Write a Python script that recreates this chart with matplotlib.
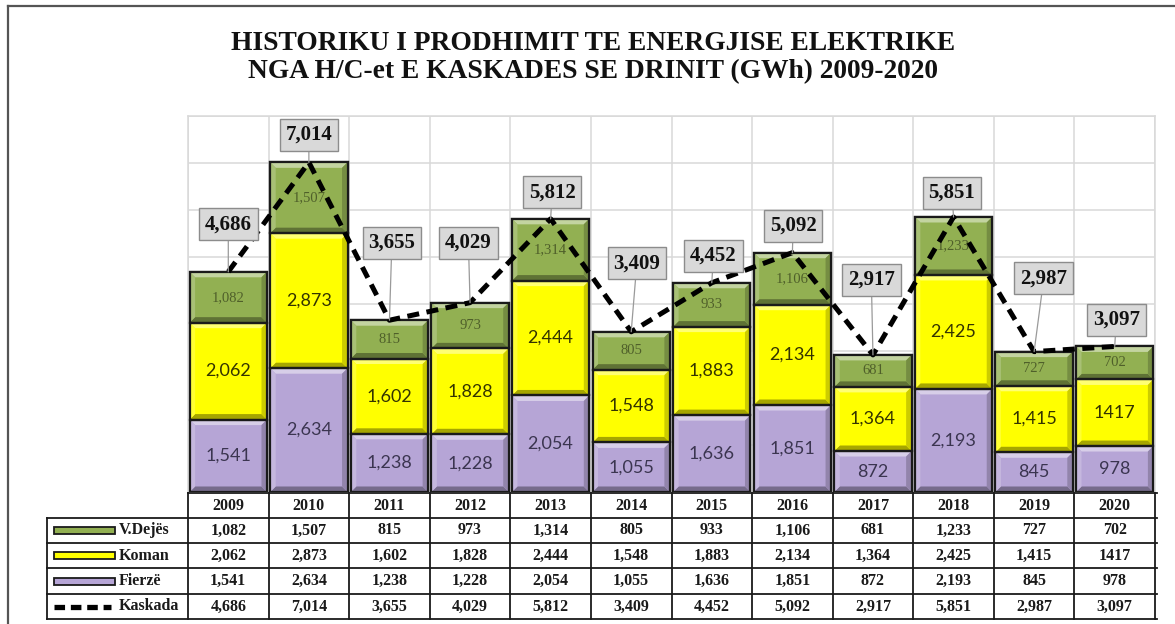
import matplotlib
matplotlib.use('Agg')
import matplotlib.pyplot as plt
import matplotlib.transforms as mtransforms
from matplotlib.patches import Rectangle, Polygon
from matplotlib.lines import Line2D
from matplotlib.colors import to_rgb
import numpy as np

# ---------------- data ----------------
years = ['2009', '2010', '2011', '2012', '2013', '2014', '2015', '2016',
         '2017', '2018', '2019', '2020']
fierze = [1541, 2634, 1238, 1228, 2054, 1055, 1636, 1851, 872, 2193, 845, 978]
koman = [2062, 2873, 1602, 1828, 2444, 1548, 1883, 2134, 1364, 2425, 1415, 1417]
vdejes = [1082, 1507, 815, 973, 1314, 805, 933, 1106, 681, 1233, 727, 702]
kaskada = [4686, 7014, 3655, 4029, 5812, 3409, 4452, 5092, 2917, 5851, 2987, 3097]
koman_text = ['2,062', '2,873', '1,602', '1,828', '2,444', '1,548', '1,883',
              '2,134', '1,364', '2,425', '1,415', '1417']
series_names = ['V.Dejës', 'Koman', 'Fierzë', 'Kaskada']
title_lines = ['HISTORIKU I PRODHIMIT TE ENERGJISE ELEKTRIKE',
               'NGA H/C-et E KASKADES SE DRINIT (GWh) 2009-2020']

# ---------------- style / layout ----------------
W, H = 1175, 624
C_FIERZE = '#b6a5d6'
C_KOMAN = '#ffff00'
C_VDEJES = '#92b052'
SERIF = ['Liberation Serif', 'DejaVu Serif']
SANS = ['Lato', 'DejaVu Sans']
# callout label placement (data y, x shift)
callout_y = [5700, 7600, 5300, 5300, 6380, 4870, 5020, 5660, 4510, 6360, 4550, 3660]
callout_dx = [0.0, 0.0, 0.03, -0.02, 0.02, 0.07, 0.02, 0.01, -0.02, -0.02, 0.12, 0.02]

fig = plt.figure(figsize=(W / 100, H / 100), dpi=100)
fig.patch.set_facecolor('white')

AX_L, AX_R, AX_T, AX_B = 188, 1155, 116, 492
ax = fig.add_axes([AX_L / W, 1 - AX_B / H, (AX_R - AX_L) / W, (AX_B - AX_T) / H])
ax.set_xlim(-0.5, 11.5)
ax.set_ylim(0, 8000)

x = np.arange(len(years))
fz = np.array(fierze)
km = np.array(koman)
vd = np.array(vdejes)

ax.set_yticks(np.arange(0, 8001, 1000))
ax.set_xticks(np.arange(-0.5, 12, 1), minor=True)
ax.set_xticks([])
ax.grid(True, which='major', axis='y', color='#d9d9d9', lw=1.1, zorder=0)
ax.grid(True, which='minor', axis='x', color='#d9d9d9', lw=1.1, zorder=0)
ax.tick_params(which='both', length=0, labelleft=False, labelbottom=False)
for s in ['top', 'right', 'left']:
    ax.spines[s].set_color('#d9d9d9')
    ax.spines[s].set_linewidth(1.1)
ax.spines['bottom'].set_visible(False)
ax.set_axisbelow(True)

bw = 0.96
b1 = ax.bar(x, fz, width=bw, color=C_FIERZE, edgecolor='#1a1a1a', lw=1.6, zorder=2)
b2 = ax.bar(x, km, width=bw, bottom=fz, color=C_KOMAN, edgecolor='#1a1a1a', lw=1.6, zorder=2)
b3 = ax.bar(x, vd, width=bw, bottom=fz + km, color=C_VDEJES, edgecolor='#1a1a1a', lw=1.6, zorder=2)


def blend(c, t, a):
    c = np.array(to_rgb(c)); t = np.array(to_rgb(t))
    return tuple(c * (1 - a) + t * a)


dx = 5.5 / ((AX_R - AX_L) / 12)
dy = 5.5 / ((AX_B - AX_T) / 8000)
for cont, col in [(b1, C_FIERZE), (b2, C_KOMAN), (b3, C_VDEJES)]:
    for p in cont.patches:
        x0, y0 = p.get_x(), p.get_y()
        x1, y1 = x0 + p.get_width(), y0 + p.get_height()
        polys = [
            ([(x0, y1), (x1, y1), (x1 - dx, y1 - dy), (x0 + dx, y1 - dy)], blend(col, 'white', 0.45)),
            ([(x0, y0), (x1, y0), (x1 - dx, y0 + dy), (x0 + dx, y0 + dy)], blend(col, 'black', 0.35)),
            ([(x0, y0), (x0 + dx, y0 + dy), (x0 + dx, y1 - dy), (x0, y1)], blend(col, 'white', 0.2)),
            ([(x1, y0), (x1 - dx, y0 + dy), (x1 - dx, y1 - dy), (x1, y1)], blend(col, 'black', 0.2)),
        ]
        for pts, c in polys:
            ax.add_patch(Polygon(pts, closed=True, facecolor=c, edgecolor='none', zorder=2.5))
        ax.add_patch(Rectangle((x0, y0), x1 - x0, y1 - y0, fill=False,
                               edgecolor='#1a1a1a', lw=1.6, zorder=2.6))

# segment labels
for i in range(len(years)):
    ax.text(x[i], fz[i] / 2, f'{fierze[i]:,}', ha='center', va='center',
            fontsize=13, family=SANS, color='#3b3550', zorder=3)
    ax.text(x[i], fz[i] + km[i] / 2, koman_text[i], ha='center', va='center',
            fontsize=13, family=SANS, color='#333300', zorder=3)
    ax.text(x[i], fz[i] + km[i] + vd[i] / 2, f'{vdejes[i]:,}', ha='center', va='center',
            fontsize=10.5, family=SERIF, color='#4f5f2a', zorder=3)

# Kaskada dashed line
ax.plot(x, kaskada, color='black', lw=3.6, ls=(0, (2.4, 1.5)), zorder=4,
        solid_capstyle='butt', dash_capstyle='butt')

# callouts
for i in range(len(years)):
    ax.annotate(f'{kaskada[i]:,}', xy=(x[i], kaskada[i]),
                xytext=(x[i] + callout_dx[i], callout_y[i]),
                ha='center', va='center', fontsize=15, fontweight='bold',
                family=SERIF, color='#111111', zorder=5,
                bbox=dict(boxstyle='square,pad=0.28', fc='#d9d9d9', ec='#8c8c8c', lw=1.0),
                arrowprops=dict(arrowstyle='-', color='#9a9a9a', lw=0.9,
                                shrinkA=0, shrinkB=0))

# ---------------- table ----------------
bt = mtransforms.blended_transform_factory(ax.transData, fig.transFigure)


def fy(ypx):
    return 1 - ypx / H


def fx(xpx):
    return xpx / W


rows_px = [493, 518, 543, 568, 594, 619]
LEFT_PX = 47
lc = '#1a1a1a'
lw_t = 1.3
# horizontal lines
fig.add_artist(Line2D([fx(AX_L), fx(AX_R + 2)], [fy(rows_px[0])] * 2, color=lc, lw=lw_t))
for r in rows_px[1:]:
    fig.add_artist(Line2D([fx(LEFT_PX), fx(AX_R + 2)], [fy(r)] * 2, color=lc, lw=lw_t))
# vertical lines
fig.add_artist(Line2D([fx(LEFT_PX)] * 2, [fy(rows_px[1]), fy(rows_px[-1])], color=lc, lw=lw_t))
for xb in np.arange(-0.5, 12, 1):
    fig.add_artist(Line2D([xb, xb], [fy(rows_px[0]), fy(rows_px[-1])], color=lc, lw=lw_t,
                          transform=bt))

tbl_kw = dict(ha='center', va='center', fontsize=11.5, fontweight='bold',
              family=SERIF, color='#1a1a1a')
row_c = [(rows_px[k] + rows_px[k + 1]) / 2 for k in range(5)]
table_rows = [[f'{v:,}' for v in vdejes], koman_text,
              [f'{v:,}' for v in fierze], [f'{v:,}' for v in kaskada]]
for i in range(len(years)):
    fig.text(x[i], fy(row_c[0]), years[i], transform=bt, **tbl_kw)
    for k in range(4):
        fig.text(x[i], fy(row_c[k + 1]), table_rows[k][i], transform=bt, **tbl_kw)

# legend column
sw_cols = [C_VDEJES, C_KOMAN, C_FIERZE]
for k in range(3):
    yc = row_c[k + 1]
    fig.add_artist(Rectangle((fx(54), fy(yc + 3.5)), fx(115) - fx(54), 7 / H,
                             facecolor=sw_cols[k], edgecolor='#1a1a1a', lw=1.3))
fig.add_artist(Line2D([fx(54), fx(111)], [fy(row_c[4])] * 2, color='black', lw=3.8,
                      ls=(0, (2.0, 1.1)), dash_capstyle='butt'))
for k in range(4):
    fig.text(fx(119), fy(row_c[k + 1]), series_names[k], ha='left', va='center',
             fontsize=11.5, fontweight='bold', family=SERIF, color='#1a1a1a')

# ---------------- title ----------------
fig.text(fx(593), fy(43), title_lines[0], ha='center', va='center', fontsize=19.8,
         fontweight='bold', family=SERIF, color='#111111')
fig.text(fx(593), fy(72), title_lines[1], ha='center', va='center', fontsize=19.8,
         fontweight='bold', family=SERIF, color='#111111')

# outer frame
fig.add_artist(Line2D([fx(8), fx(1175)], [fy(6), fy(6)], color='#555555', lw=1.6))
fig.add_artist(Line2D([fx(8), fx(8)], [fy(6), fy(624)], color='#555555', lw=1.6))

fig.savefig('out.png', dpi=100)
